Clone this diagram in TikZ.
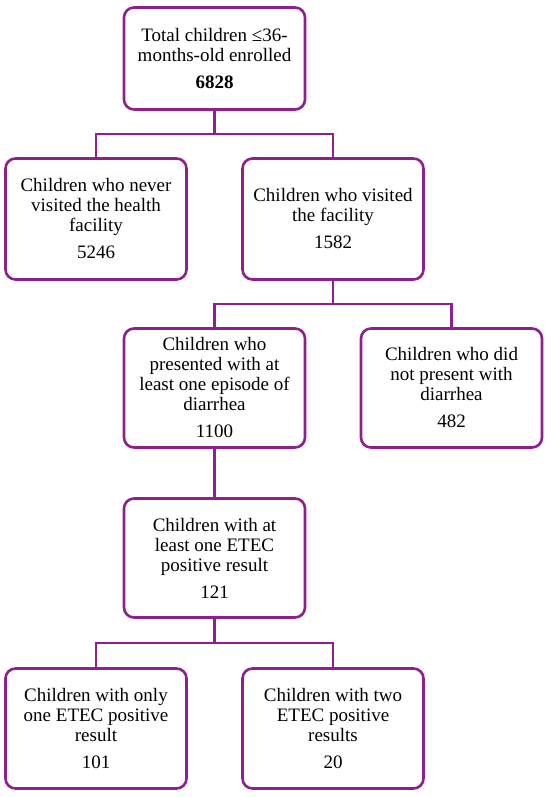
\documentclass[tikz,border=0pt]{standalone}
\usepackage{fontspec}
\setmainfont{Liberation Serif}
\definecolor{fc}{RGB}{142,32,140}
\begin{document}
\begin{tikzpicture}[x=1pt,y=1pt,
  box/.style={draw=fc,line width=2.6pt,rounded corners=10pt,fill=white,
    minimum width=181pt,align=center,inner sep=0pt,
    font=\fontsize{19}{20}\selectfont},
  link/.style={draw=fc,line width=2.6pt}]
\useasboundingbox (0,0) rectangle (550,797);
\node[box,minimum height=102pt] (top) at (214.5,738.5) {Total children ≤36-\\months-old enrolled\\[7pt]\textbf{6828}};
\node[box,minimum height=121pt] (b1) at (96,578) {Children who never\\visited the health\\facility\\[7pt]5246};
\node[box,minimum height=121pt] (b2) at (333,578) {Children who visited\\the facility\\[7pt]1582};
\node[box,minimum height=119pt] (b3) at (214.5,409) {Children who\\presented with at\\least one episode of\\diarrhea\\[7pt]1100};
\node[box,minimum height=119pt] (b4) at (451.5,409) {Children who did\\not present with\\diarrhea\\[7pt]482};
\node[box,minimum height=119pt] (b5) at (214.5,239) {Children with at\\least one ETEC\\positive result\\[7pt]121};
\node[box,minimum height=120pt] (b6) at (96,68.5) {Children with only\\one ETEC positive\\result\\[7pt]101};
\node[box,minimum height=120pt] (b7) at (333,68.5) {Children with two\\ETEC positive\\results\\[7pt]20};
\coordinate (j1) at (214.5,663);
\coordinate (j2) at (333,493);
\coordinate (j3) at (214.5,154);
\draw[link] (top.south) -- (j1);
\draw[link] (j1) -| (b1.north);
\draw[link] (j1) -| (b2.north);
\draw[link] (b2.south) -- (j2);
\draw[link] (j2) -| (b3.north);
\draw[link] (j2) -| (b4.north);
\draw[link] (b3.south) -- (b5.north);
\draw[link] (b5.south) -- (j3);
\draw[link] (j3) -| (b6.north);
\draw[link] (j3) -| (b7.north);
\end{tikzpicture}
\end{document}
